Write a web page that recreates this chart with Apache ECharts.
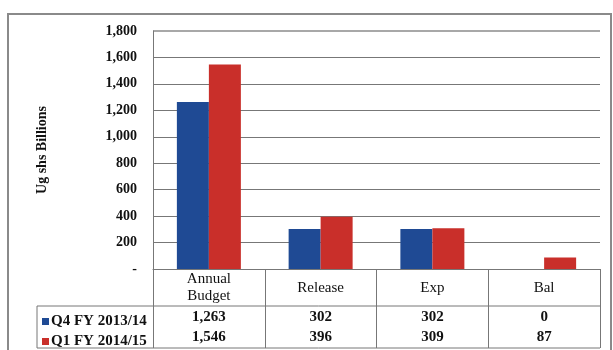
<!DOCTYPE html>
<html lang="en">
<head>
    <meta charset="UTF-8">
    <title>Ug shs Billions</title>
    <script src="https://cdn.jsdelivr.net/npm/echarts@6/dist/echarts.min.js"></script>
    <style>
        html, body { margin:0; padding:0; background:#fff; }
        #chart { width:613px; height:350px; }
    </style>
</head>
<body>
<div id="chart"></div>
<script>
    var categories = ['Annual\nBudget', 'Release', 'Exp', 'Bal'];
    var seriesNames = ['Q4 FY 2013/14', 'Q1 FY 2014/15'];
    var q4Values = [1263, 302, 302, 0];
    var q1Values = [1546, 396, 309, 87];
    var colors = ['#1f4a94', '#c92f2a'];

    var serif = '"Liberation Serif", "DejaVu Serif", serif';
    var lineCol = '#777';
    // table rows under the plot
    var rowTop = 306, rowBottom = 348, tableLeft = 37, plotRight = 600;
    var rowCenters = [317, 337];

    function fmt(v) {
        return v.toString().replace(/\B(?=(\d{3})+(?!\d))/g, ',');
    }

    var myChart = echarts.init(document.getElementById('chart'));

    // one legend per table row
    var legends = seriesNames.map(function (name, k) {
        return {
            left: 37, top: rowCenters[k] - 8,
            itemWidth: 7, itemHeight: 7,
            icon: 'rect',
            selectedMode: false,
            textStyle: { fontFamily: serif, fontWeight: 'bold', fontSize: 15, color: '#111', padding: [0, 0, 0, -3] },
            data: [name]
        };
    });

    var option = {
        animation: false,
        grid: { left: 153, right: 13, top: 31, bottom: 81 },
        legend: legends,
        xAxis: {
            type: 'category',
            data: categories,
            axisLine: { lineStyle: { color: lineCol, width: 1 } },
            axisTick: { show: true, length: 79, lineStyle: { color: lineCol } },
            axisLabel: {
                margin: 19, verticalAlign: 'middle', lineHeight: 17,
                fontFamily: serif, fontSize: 15, color: '#111'
            }
        },
        yAxis: {
            type: 'value',
            min: 0, max: 1800, interval: 200,
            name: 'Ug shs Billions',
            nameLocation: 'middle',
            nameGap: 104,
            nameTextStyle: { fontFamily: serif, fontWeight: 'bold', fontSize: 14, color: '#111' },
            axisLine: { show: true, lineStyle: { color: lineCol } },
            axisTick: { show: false },
            axisLabel: {
                margin: 16,
                fontFamily: serif, fontWeight: 'bold', fontSize: 14, color: '#111',
                formatter: function (v) { return v === 0 ? '-' : fmt(v); }
            },
            splitLine: { lineStyle: { color: lineCol, width: 1 } }
        },
        series: [
            { name: seriesNames[0], type: 'bar', data: q4Values, barWidth: 32, barGap: '0%',
              itemStyle: { color: colors[0] } },
            { name: seriesNames[1], type: 'bar', data: q1Values, barWidth: 32, barGap: '0%',
              itemStyle: { color: colors[1] } }
        ]
    };
    myChart.setOption(option);

    // table lines + value cells
    var graphics = [
        { type: 'rect', shape: { x: 8, y: 14, width: 603, height: 360 }, style: { fill: null, stroke: '#8a8a8a', lineWidth: 2 }, silent: true },
        { type: 'line', shape: { x1: tableLeft, y1: rowTop, x2: plotRight, y2: rowTop }, style: { stroke: lineCol, lineWidth: 1 } },
        { type: 'line', shape: { x1: tableLeft, y1: rowBottom, x2: plotRight, y2: rowBottom }, style: { stroke: lineCol, lineWidth: 1 } },
        { type: 'line', shape: { x1: tableLeft, y1: rowTop, x2: tableLeft, y2: rowBottom }, style: { stroke: lineCol, lineWidth: 1 } },
        { type: 'line', shape: { x1: 153, y1: 31, x2: plotRight, y2: 31 }, style: { stroke: '#a8a8a8', lineWidth: 2 } }
    ];
    var rows = [q4Values, q1Values];
    for (var r = 0; r < rows.length; r++) {
        for (var i = 0; i < categories.length; i++) {
            var px = myChart.convertToPixel({ xAxisIndex: 0 }, i);
            graphics.push({
                type: 'text',
                x: px, y: rowCenters[r],
                style: {
                    text: fmt(rows[r][i]),
                    align: 'center', verticalAlign: 'middle',
                    font: 'bold 15px ' + serif, fill: '#111'
                }
            });
        }
    }
    myChart.setOption({ graphic: graphics });
</script>
</body>
</html>
